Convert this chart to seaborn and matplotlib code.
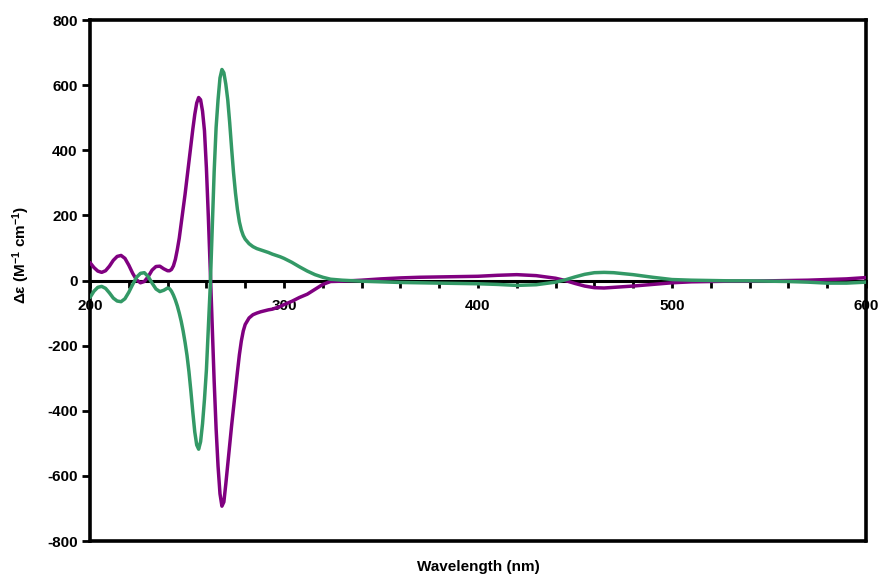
import matplotlib
matplotlib.use("Agg")
import matplotlib.pyplot as plt
import numpy as np
import pandas as pd
import seaborn as sns

# Wavelength grid (nm), denser around the exciton couplet
wavelength = [
    200, 202, 204, 206, 208, 210, 212, 214, 216, 218, 220, 222, 224, 226, 228, 230, 232, 234, 236, 238, 240,
    241, 242, 243, 244, 245, 246, 247, 248, 249, 250, 251, 252, 253, 254, 255, 256, 257, 258, 259, 260,
    261, 262, 263, 264, 265, 266, 267, 268, 269, 270, 271, 272, 273, 274, 275, 276, 277, 278, 279, 280,
    282, 284, 286, 288, 290, 292, 294, 296, 298, 300,
    304, 308, 312, 316, 320, 324,
    330, 340, 350, 360, 370, 380, 390, 400, 410, 420, 430, 440,
    445, 450, 455, 460, 465, 470,
    480, 490, 500, 510, 520, 530, 540, 550, 560, 570, 580, 590, 600,
]

# Molar circular dichroism, Δε (M^-1 cm^-1)
delta_eps_a = [
    55, 40, 29, 25, 30, 44, 62, 74, 77, 68, 47, 22, 2, -7, -3, 12, 32, 43, 44, 36, 30,
    30, 34, 45, 65, 95, 130, 175, 220, 265, 315, 365, 415, 465, 510, 545, 562, 555, 520, 460, 345,
    195, 30, -140, -310, -455, -570, -655, -693, -680, -625, -565, -505, -445, -390, -335, -280, -228, -186, -155, -135,
    -115, -105, -100, -96, -93, -90, -88, -84, -80, -74,
    -64, -52, -42, -27, -12, -3,
    -2, 1, 5, 8, 10, 11, 12, 13, 16, 18, 15, 7,
    0, -9, -17, -22, -23, -21,
    -17, -12, -7, -4, -3, -2, -2, -1, 0, 1, 3, 5, 9,
]

delta_eps_b = [
    -52, -33, -21, -18, -24, -38, -54, -63, -65, -56, -36, -12, 10, 22, 24, 12, -8, -26, -34, -30, -23,
    -25, -33, -45, -60, -78, -100, -125, -155, -190, -230, -280, -340, -405, -465, -505, -518, -495, -440, -365, -275,
    -145, -15, 160, 335, 470, 555, 622, 648, 638, 603, 555, 485, 405, 330, 268, 218, 180, 155, 138, 127,
    113, 104, 98, 94, 90, 86, 81, 77, 73, 68,
    56, 42, 29, 18, 10, 4,
    1, -2, -4, -6, -7, -8, -9, -10, -12, -15, -13, -5,
    2, 11, 19, 24, 25, 24,
    18, 10, 3, 1, 0, -1, -1, -2, -3, -5, -8, -8, -5,
]

series_names = ["A", "B"]
series_colors = ["#800080", "#339966"]

sns.set_theme(style="white")
plt.rcParams["font.family"] = ["Liberation Sans", "DejaVu Sans"]
plt.rcParams["mathtext.fontset"] = "custom"
plt.rcParams["mathtext.rm"] = "Liberation Sans:bold"
plt.rcParams["mathtext.it"] = "Liberation Sans:bold"
plt.rcParams["mathtext.bf"] = "Liberation Sans:bold"
plt.rcParams["axes.unicode_minus"] = False

n = len(wavelength)
df = pd.DataFrame({
    "wavelength": wavelength * 2,
    "delta_eps": delta_eps_a + delta_eps_b,
    "sample": [series_names[0]] * n + [series_names[1]] * n,
})

fig, ax = plt.subplots(figsize=(8.8, 5.75), dpi=100)
fig.subplots_adjust(left=0.1023, right=0.984, top=0.9652, bottom=0.0591)

sns.lineplot(
    data=df, x="wavelength", y="delta_eps", hue="sample",
    palette=dict(zip(series_names, series_colors)),
    linewidth=2.5, legend=False, ax=ax, zorder=3,
)

ax.set_xlim(200, 600)
ax.set_ylim(-800, 800)

# Frame: left/top/right spines, bottom spine doubles as the zero line
for side in ("left", "top", "right"):
    ax.spines[side].set_color("black")
    ax.spines[side].set_linewidth(2.6)
ax.spines["bottom"].set_position(("data", 0))
ax.spines["bottom"].set_color("black")
ax.spines["bottom"].set_linewidth(2.2)
ax.spines["bottom"].set_zorder(2)
ax.axhline(-800, color="black", linewidth=2.6, clip_on=False, zorder=2.5)

ax.set_xticks(np.arange(200, 601, 100))
ax.set_xticks(np.arange(200, 601, 20), minor=True)
ax.set_yticks(np.arange(-800, 801, 200))
ax.tick_params(axis="x", which="both", direction="out", bottom=True, length=5,
               width=2, color="black", pad=8)
ax.tick_params(axis="y", which="major", direction="out", left=True, length=6,
               width=2, color="black", pad=3)
for lab in ax.get_xticklabels() + ax.get_yticklabels():
    lab.set_fontweight("bold")
    lab.set_fontsize(11)
    lab.set_color("black")

ax.set_xlabel("")
ax.set_ylabel(r"Δε (M$^{-1}$ cm$^{-1}$)", fontweight="bold", fontsize=11, color="black")
ax.yaxis.set_label_coords(-0.075, 0.55)
fig.text(478 / 880, 1 - 567 / 575, "Wavelength (nm)", ha="center", va="center",
         fontweight="bold", fontsize=11, color="black")

fig.savefig("out.png", dpi=100)
